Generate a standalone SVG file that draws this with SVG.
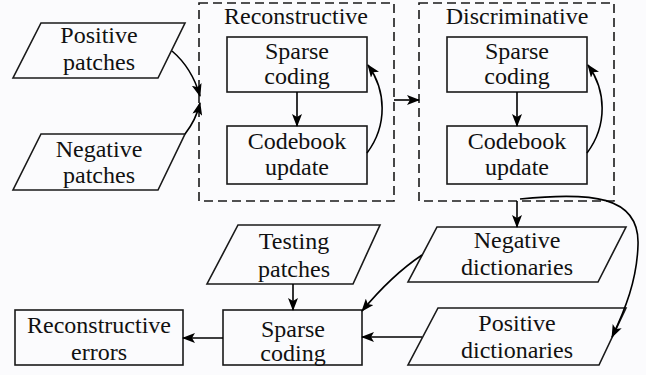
<svg xmlns="http://www.w3.org/2000/svg" width="646" height="375" viewBox="0 0 646 375">
<defs>
<marker id="ah" markerWidth="13" markerHeight="10" refX="12" refY="5" orient="auto" markerUnits="userSpaceOnUse">
<path d="M0,0 L13,5 L0,10 L3,5 Z" fill="#000"/>
</marker>
<style>
.n{fill:none;stroke:#1a1a1a;stroke-width:1.6}
.d{fill:none;stroke:#1a1a1a;stroke-width:1.6;stroke-dasharray:9,5}
.t{font-family:'Liberation Serif','DejaVu Serif',serif;font-size:24px;fill:#111;text-anchor:middle}
.c{fill:none;stroke:#000;stroke-width:1.6;marker-end:url(#ah)}
</style>
</defs>
<rect width="646" height="375" fill="#fbfbfd"/>
<g id="positive-patches"><polygon class="n" points="41,23 185,23 158,78 13,78"/><text class="t" x="99" y="43">Positive</text><text class="t" x="99" y="70">patches</text></g>
<g id="negative-patches"><polygon class="n" points="41,134 185,134 158,190 13,190"/><text class="t" x="99" y="157">Negative</text><text class="t" x="99" y="183">patches</text></g>
<g id="reconstructive"><rect class="d" x="199" y="3" width="195" height="198"/><text class="t" x="296" y="24">Reconstructive</text></g>
<g id="rec-sparse"><rect class="n" x="227" y="37" width="140" height="55"/><text class="t" x="297" y="59">Sparse</text><text class="t" x="297" y="84">coding</text></g>
<g id="rec-codebook"><rect class="n" x="227" y="126" width="140" height="58"/><text class="t" x="297" y="149">Codebook</text><text class="t" x="297" y="175">update</text></g>
<g id="discriminative"><rect class="d" x="419" y="3" width="195" height="198"/><text class="t" x="517" y="24">Discriminative</text></g>
<g id="dis-sparse"><rect class="n" x="447" y="37" width="140" height="55"/><text class="t" x="517" y="59">Sparse</text><text class="t" x="517" y="84">coding</text></g>
<g id="dis-codebook"><rect class="n" x="447" y="126" width="140" height="58"/><text class="t" x="517" y="149">Codebook</text><text class="t" x="517" y="175">update</text></g>
<g id="testing-patches"><polygon class="n" points="238,225 380,225 353,284 207,284"/><text class="t" x="294" y="249">Testing</text><text class="t" x="294" y="277">patches</text></g>
<g id="negative-dictionaries"><polygon class="n" points="437,227 626,227 598,282 408,282"/><text class="t" x="517" y="248">Negative</text><text class="t" x="517" y="275">dictionaries</text></g>
<g id="positive-dictionaries"><polygon class="n" points="438,308 626,308 599,365 408,365"/><text class="t" x="517" y="331">Positive</text><text class="t" x="517" y="358">dictionaries</text></g>
<g id="test-sparse"><rect class="n" x="223" y="310" width="139" height="55"/><text class="t" x="293" y="337">Sparse</text><text class="t" x="293" y="361">coding</text></g>
<g id="reconstructive-errors"><rect class="n" x="15" y="310" width="168" height="55"/><text class="t" x="99" y="333">Reconstructive</text><text class="t" x="99" y="360">errors</text></g>
<g id="connectors">
<path class="c" d="M172,51 Q192,68 200,96"/>
<path class="c" d="M185,134 Q196,120 200,103"/>
<path class="c" d="M297,92 L297,126"/>
<path class="c" d="M367,153 C388,125 386,90 368,65"/>
<path class="c" d="M517,92 L517,126"/>
<path class="c" d="M587,153 C608,125 606,90 588,65"/>
<path class="c" d="M394,100 L419,100"/>
<path class="c" d="M517,201 L517,227"/>
<path class="c" d="M520,199 C590,192 640,195 638,245 C637,280 625,310 612,337"/>
<path class="c" d="M422,255 Q392,275 362,311"/>
<path class="c" d="M422,337 L362,337"/>
<path class="c" d="M293,284 L293,310"/>
<path class="c" d="M223,338 L183,338"/>
</g>
</svg>
